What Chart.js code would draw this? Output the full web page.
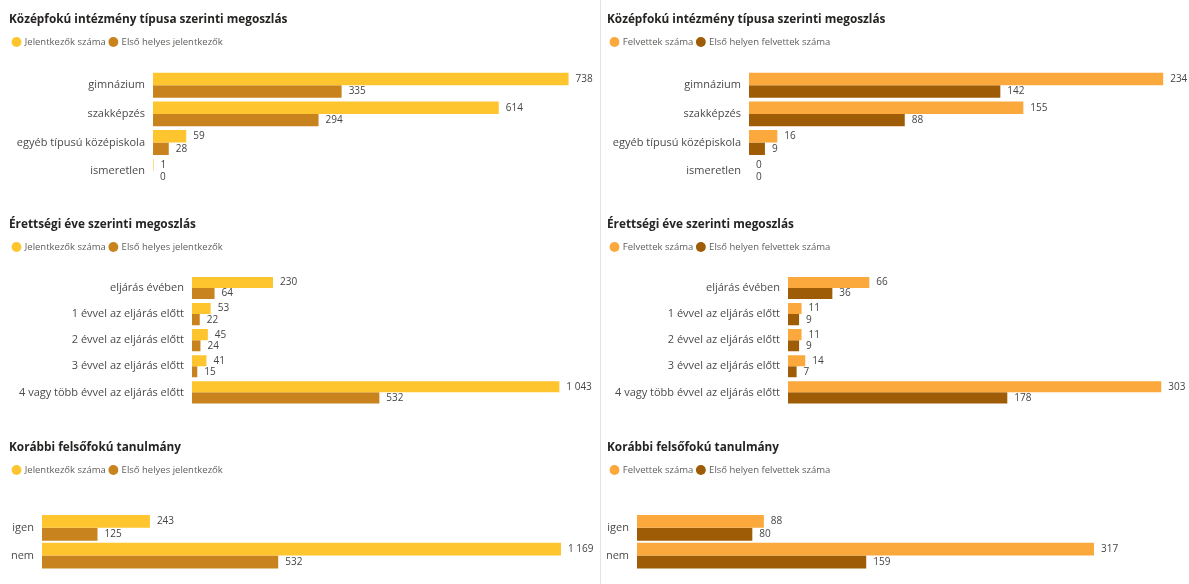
<!DOCTYPE html>
<html>
<head>
<meta charset="utf-8">
<script src="https://cdn.jsdelivr.net/npm/chart.js@4.4.1/dist/chart.umd.min.js"></script>
<style>
  html, body { margin: 0; padding: 0; background: #fff; }
  #page { position: relative; width: 1189px; height: 584px; overflow: hidden; }
  .panel { position: absolute; }
  #divider { position: absolute; left: 600px; top: 0; width: 1px; height: 584px; background: #e4e4e4; }
</style>
</head>
<body>
<div id="page">
  <div class="panel" id="p1"><canvas id="c1"></canvas></div>
  <div class="panel" id="p2"><canvas id="c2"></canvas></div>
  <div class="panel" id="p3"><canvas id="c3"></canvas></div>
  <div class="panel" id="p4"><canvas id="c4"></canvas></div>
  <div class="panel" id="p5"><canvas id="c5"></canvas></div>
  <div class="panel" id="p6"><canvas id="c6"></canvas></div>
  <div id="divider"></div>
</div>
<script>
// categories
const schoolTypes = ["gimnázium", "szakképzés", "egyéb típusú középiskola", "ismeretlen"];
const graduationYears = ["eljárás évében", "1 évvel az eljárás előtt", "2 évvel az eljárás előtt",
  "3 évvel az eljárás előtt", "4 vagy több évvel az eljárás előtt"];
const priorStudies = ["igen", "nem"];

// left column - applicants
const applicantsBySchool = [738, 614, 59, 1];
const firstChoiceBySchool = [335, 294, 28, 0];
const applicantsByYear = [230, 53, 45, 41, 1043];
const firstChoiceByYear = [64, 22, 24, 15, 532];
const applicantsByPrior = [243, 1169];
const firstChoiceByPrior = [125, 532];

// right column - admitted
const admittedBySchool = [234, 155, 16, 0];
const admittedFirstBySchool = [142, 88, 9, 0];
const admittedByYear = [66, 11, 11, 14, 303];
const admittedFirstByYear = [36, 9, 9, 7, 178];
const admittedByPrior = [88, 317];
const admittedFirstByPrior = [80, 159];

// texts
const titles = ["Középfokú intézmény típusa szerinti megoszlás", "Érettségi éve szerinti megoszlás", "Korábbi felsőfokú tanulmány"];
const leftSeriesNames = ["Jelentkezők száma", "Első helyes jelentkezők"];
const rightSeriesNames = ["Felvettek száma", "Első helyen felvettek száma"];

const FONT = '"Open Sans", "Noto Sans", sans-serif';
Chart.defaults.font.family = FONT;

// hungarian style thousands: "1 043"
function fmt(n) {
  return String(n).replace(/\B(?=(\d{3})+(?!\d))/g, "\u00a0");
}

// value labels at the end of each bar
const valueLabels = {
  id: "valueLabels",
  afterDatasetsDraw(chart) {
    const ctx = chart.ctx;
    ctx.save();
    ctx.font = "10px " + FONT;
    ctx.fillStyle = "#444";
    ctx.textBaseline = "middle";
    ctx.textAlign = "left";
    chart.data.datasets.forEach((ds, i) => {
      chart.getDatasetMeta(i).data.forEach((bar, j) => {
        ctx.fillText(fmt(ds.data[j]), bar.x + 7, bar.y);
      });
    });
    ctx.restore();
  }
};

function makePanel(p) {
  const box = document.getElementById(p.box);
  box.style.left = p.colLeft + "px";
  box.style.top = p.rowTop + "px";
  box.style.width = p.colWidth + "px";
  box.style.height = p.rowHeight + "px";

  const padLeft = p.titleX - p.colLeft;
  const axisWidth = p.plotLeft - p.titleX;
  const padRight = p.colLeft + p.colWidth - p.plotRight;
  const xMax = (p.plotRight - p.plotLeft) / p.pxPerUnit;

  // vertical layout, relative to the row
  const titleSize = 11.8, titleLine = 15;
  const legendSize = 9.5, legendPad = 4;
  const titleTop = p.titleCy - p.rowTop - titleLine / 2;
  const legendTop = p.legendCy - p.rowTop - legendPad - legendSize / 2;
  const legendBottom = legendTop + legendSize + legendPad + 10;
  const gap = p.plotTop - p.rowTop - legendBottom;

  new Chart(document.getElementById(p.canvas), {
    type: "bar",
    data: {
      labels: p.labels,
      datasets: [
        { label: p.names[0], data: p.values[0], backgroundColor: p.colors[0] },
        { label: p.names[1], data: p.values[1], backgroundColor: p.colors[1] }
      ]
    },
    options: {
      indexAxis: "y",
      responsive: true,
      maintainAspectRatio: false,
      animation: false,
      categoryPercentage: p.catPct,
      barPercentage: 1,
      layout: {
        padding: { left: padLeft, right: padRight, top: 0, bottom: p.rowTop + p.rowHeight - p.plotBottom }
      },
      plugins: {
        tooltip: { enabled: false },
        title: {
          display: true,
          text: p.title,
          align: "start",
          color: "#252423",
          font: { size: titleSize, weight: "bold", lineHeight: titleLine / titleSize },
          padding: { top: titleTop, bottom: legendTop - titleTop - titleLine }
        },
        legend: {
          display: true,
          align: "start",
          labels: {
            usePointStyle: true,
            pointStyle: "circle",
            boxWidth: 7,
            boxHeight: 7,
            padding: legendPad,
            color: "#605e5c",
            font: { size: legendSize }
          }
        }
      },
      scales: {
        x: {
          position: "top",
          min: 0,
          max: xMax,
          ticks: { display: false },
          grid: { display: false, drawTicks: false },
          border: { display: false },
          afterFit: s => { s.height = gap; }
        },
        y: {
          ticks: { color: "#4a4a4a", font: { size: 11 }, padding: 8, autoSkip: false },
          grid: { display: false, drawTicks: false },
          border: { display: false },
          afterFit: s => { s.width = axisWidth; }
        }
      }
    },
    plugins: [valueLabels]
  });
}

const leftColors = ["#fec52e", "#c8831f"];
const rightColors = ["#fba93d", "#9e5c07"];

// top row
makePanel({ box: "p1", canvas: "c1", colLeft: 0, colWidth: 597, rowTop: 0, rowHeight: 200,
  titleX: 9, titleCy: 20, legendCy: 42, plotTop: 71, plotBottom: 195,
  plotLeft: 153, plotRight: 575, pxPerUnit: 0.5631, catPct: 0.87,
  title: titles[0], labels: schoolTypes, names: leftSeriesNames, colors: leftColors,
  values: [applicantsBySchool, firstChoiceBySchool] });
makePanel({ box: "p4", canvas: "c4", colLeft: 600, colWidth: 589, rowTop: 0, rowHeight: 200,
  titleX: 607, titleCy: 20, legendCy: 42, plotTop: 71, plotBottom: 195,
  plotLeft: 749, plotRight: 1170, pxPerUnit: 1.77, catPct: 0.87,
  title: titles[0], labels: schoolTypes, names: rightSeriesNames, colors: rightColors,
  values: [admittedBySchool, admittedFirstBySchool] });

// middle row
makePanel({ box: "p2", canvas: "c2", colLeft: 0, colWidth: 597, rowTop: 200, rowHeight: 220,
  titleX: 9, titleCy: 225, legendCy: 247, plotTop: 275, plotBottom: 418.5,
  plotLeft: 192, plotRight: 575, pxPerUnit: 0.3522, catPct: 0.85,
  title: titles[1], labels: graduationYears, names: leftSeriesNames, colors: leftColors,
  values: [applicantsByYear, firstChoiceByYear] });
makePanel({ box: "p5", canvas: "c5", colLeft: 600, colWidth: 589, rowTop: 200, rowHeight: 220,
  titleX: 607, titleCy: 225, legendCy: 247, plotTop: 275, plotBottom: 418.5,
  plotLeft: 788, plotRight: 1170, pxPerUnit: 1.232, catPct: 0.85,
  title: titles[1], labels: graduationYears, names: rightSeriesNames, colors: rightColors,
  values: [admittedByYear, admittedFirstByYear] });

// bottom row
makePanel({ box: "p3", canvas: "c3", colLeft: 0, colWidth: 597, rowTop: 420, rowHeight: 164,
  titleX: 9, titleCy: 448, legendCy: 470, plotTop: 514, plotBottom: 570,
  plotLeft: 42, plotRight: 575, pxPerUnit: 0.444, catPct: 0.93,
  title: titles[2], labels: priorStudies, names: leftSeriesNames, colors: leftColors,
  values: [applicantsByPrior, firstChoiceByPrior] });
makePanel({ box: "p6", canvas: "c6", colLeft: 600, colWidth: 589, rowTop: 420, rowHeight: 164,
  titleX: 607, titleCy: 448, legendCy: 470, plotTop: 514, plotBottom: 570,
  plotLeft: 637, plotRight: 1170, pxPerUnit: 1.4416, catPct: 0.93,
  title: titles[2], labels: priorStudies, names: rightSeriesNames, colors: rightColors,
  values: [admittedByPrior, admittedFirstByPrior] });
</script>
</body>
</html>
